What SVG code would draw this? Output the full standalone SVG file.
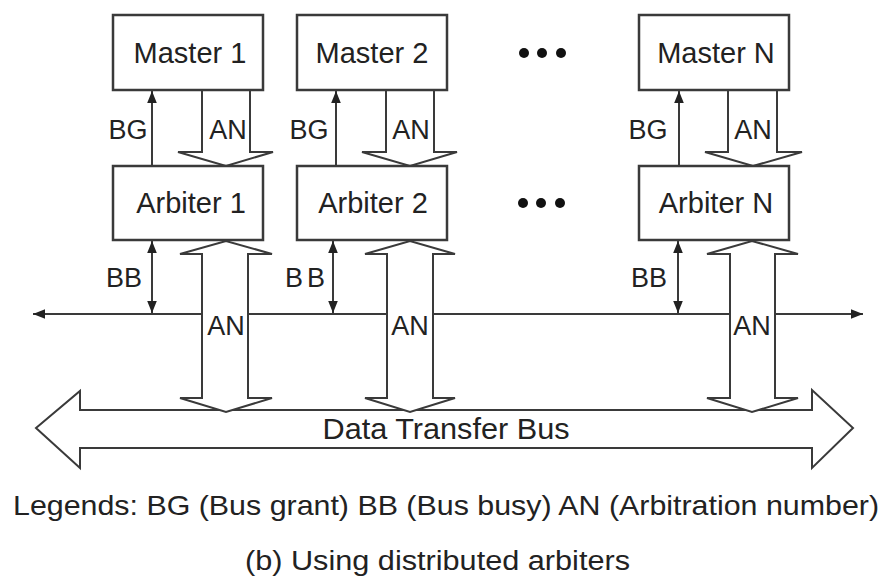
<svg xmlns="http://www.w3.org/2000/svg" width="885" height="577" viewBox="0 0 885 577">
  <style>
    .box { fill: #fff; stroke: #3a3a3a; stroke-width: 2.5; }
    .ln { fill: none; stroke: #3a3a3a; stroke-width: 2; }
    .fat { fill: #fff; stroke: #3a3a3a; stroke-width: 2; stroke-linejoin: miter; }
    .t { font-family: "Liberation Sans", Arial, sans-serif; fill: #222; }
    .big { font-size: 29px; text-anchor: middle; }
    .lbl { font-size: 27px; }
    .dot { fill: #111; }
  </style>
  <defs>
    <marker id="ah" viewBox="0 0 10 10" refX="10" refY="5" markerWidth="6" markerHeight="6" orient="auto-start-reverse" markerUnits="userSpaceOnUse">
      <path d="M0,0 L10,5 L0,10 Z" fill="#222"/>
    </marker>
    <marker id="ahs" viewBox="0 0 10 10" refX="10" refY="5" markerWidth="16" markerHeight="12" orient="auto-start-reverse" markerUnits="userSpaceOnUse">
      <path d="M0,1 L10,5 L0,9 Z" fill="#222"/>
    </marker>
  </defs>
  <rect width="885" height="577" fill="#fff"/>

  <!-- data transfer bus -->
  <g id="data-bus">
    <path class="fat" d="M36,428 L80,391 L80,410 L812,410 L812,390 L853,428 L812,468 L812,448 L80,448 L80,468 Z"/>
    <text class="t" x="446" y="439" font-size="29" text-anchor="middle" textLength="247" lengthAdjust="spacingAndGlyphs">Data Transfer Bus</text>
  </g>

  <g id="connectors">
    <!-- bus busy line -->
    <line class="ln" x1="46" y1="314" x2="850" y2="314"/>
    <line class="ln" x1="46" y1="314" x2="33" y2="314" marker-end="url(#ahs)"/>
    <line class="ln" x1="850" y1="314" x2="863" y2="314" marker-end="url(#ahs)"/>

    <!-- BG: arbiter to master -->
    <line class="ln" x1="152" y1="166" x2="152" y2="91" marker-end="url(#ahs)"/>
    <line class="ln" x1="336" y1="166" x2="336" y2="91" marker-end="url(#ahs)"/>
    <line class="ln" x1="679" y1="166" x2="679" y2="91" marker-end="url(#ahs)"/>

    <!-- BB: arbiter to bus busy line, both ways -->
    <line class="ln" x1="152" y1="241" x2="152" y2="313" marker-start="url(#ahs)" marker-end="url(#ahs)"/>
    <line class="ln" x1="333" y1="241" x2="333" y2="313" marker-start="url(#ahs)" marker-end="url(#ahs)"/>
    <line class="ln" x1="678" y1="241" x2="678" y2="313" marker-start="url(#ahs)" marker-end="url(#ahs)"/>

    <!-- AN: master to arbiter -->
    <path class="fat" d="M202,90 L202,152 L178,152 L226,166 L273,152 L250,152 L250,90"/>
    <path class="fat" d="M386,90 L386,152 L362,152 L410,166 L457,152 L434,152 L434,90"/>
    <path class="fat" d="M728,90 L728,152 L705,152 L753,166 L802,152 L777,152 L777,90"/>

    <!-- AN: arbiter to data bus, both ways -->
    <path class="fat" d="M202,254 L180,254 L226,241 L272,254 L248,254 L248,398 L272,398 L226,412 L180,398 L202,398 Z"/>
    <path class="fat" d="M387,254 L365,254 L410,241 L455,254 L433,254 L433,398 L455,398 L410,412 L365,398 L387,398 Z"/>
    <path class="fat" d="M730,254 L707,254 L752,241 L798,254 L775,254 L775,398 L798,398 L752,412 L707,398 L730,398 Z"/>

    <!-- signal labels -->
    <g class="t lbl">
      <text x="128" y="139" text-anchor="middle">BG</text>
      <text x="228" y="139" text-anchor="middle">AN</text>
      <text x="124" y="287" text-anchor="middle">BB</text>
      <text x="226" y="335" text-anchor="middle">AN</text>

      <text x="309" y="139" text-anchor="middle">BG</text>
      <text x="411" y="139" text-anchor="middle">AN</text>
      <text x="305" y="287" text-anchor="middle" textLength="40" lengthAdjust="spacing">B B</text>
      <text x="410" y="335" text-anchor="middle">AN</text>

      <text x="648" y="139" text-anchor="middle">BG</text>
      <text x="753" y="139" text-anchor="middle">AN</text>
      <text x="649" y="287" text-anchor="middle">BB</text>
      <text x="752" y="335" text-anchor="middle">AN</text>
    </g>
  </g>

  <!-- masters -->
  <g id="master-1">
    <rect class="box" x="113" y="15" width="150" height="75"/>
    <text class="t big" x="190" y="63">Master 1</text>
  </g>
  <g id="master-2">
    <rect class="box" x="297" y="15" width="150" height="75"/>
    <text class="t big" x="372" y="63">Master 2</text>
  </g>
  <g id="master-n">
    <rect class="box" x="639" y="15" width="150" height="75"/>
    <text class="t big" x="716" y="63">Master N</text>
  </g>

  <!-- arbiters -->
  <g id="arbiter-1">
    <rect class="box" x="113" y="166" width="150" height="74"/>
    <text class="t big" x="191" y="213">Arbiter 1</text>
  </g>
  <g id="arbiter-2">
    <rect class="box" x="297" y="166" width="150" height="74"/>
    <text class="t big" x="373" y="213">Arbiter 2</text>
  </g>
  <g id="arbiter-n">
    <rect class="box" x="639" y="166" width="150" height="74"/>
    <text class="t big" x="716" y="213">Arbiter N</text>
  </g>

  <!-- ellipsis between 2 and N -->
  <g id="ellipsis">
    <circle class="dot" cx="524" cy="53" r="5"/>
    <circle class="dot" cx="542" cy="53" r="5"/>
    <circle class="dot" cx="561" cy="53" r="5"/>
    <circle class="dot" cx="523" cy="203" r="5"/>
    <circle class="dot" cx="541" cy="203" r="5"/>
    <circle class="dot" cx="560" cy="203" r="5"/>
  </g>

  <!-- legend and caption -->
  <g id="legend">
    <text class="t" x="13" y="515" font-size="28" textLength="866" lengthAdjust="spacingAndGlyphs">Legends: BG (Bus grant) BB (Bus busy) AN (Arbitration number)</text>
    <text class="t" x="245" y="570" font-size="27" textLength="385" lengthAdjust="spacingAndGlyphs">(b) Using distributed arbiters</text>
  </g>
</svg>
